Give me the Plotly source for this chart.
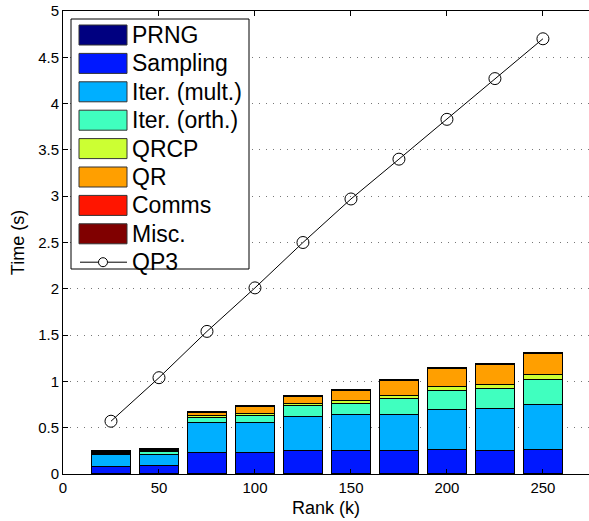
import plotly.graph_objects as go

# ---------------- data ----------------
rank = [25, 50, 75, 100, 125, 150, 175, 200, 225, 250]
series_names = ["PRNG", "Sampling", "Iter. (mult.)", "Iter. (orth.)", "QRCP", "QR", "Comms", "Misc."]
series_colors = ["#000080", "#0018FF", "#00AFFF", "#40FFBF", "#CCFF33", "#FF9F00", "#FF1500", "#800000"]

prng     = [0.002, 0.002, 0.002, 0.002, 0.002, 0.002, 0.002, 0.002, 0.002, 0.002]
sampling = [0.083, 0.085, 0.233, 0.233, 0.247, 0.247, 0.250, 0.258, 0.250, 0.265]
iter_mult = [0.122, 0.123, 0.322, 0.317, 0.368, 0.390, 0.395, 0.437, 0.452, 0.488]
iter_orth = [0.015, 0.036, 0.050, 0.085, 0.124, 0.123, 0.170, 0.210, 0.220, 0.267]
qrcp     = [0.005, 0.003, 0.020, 0.020, 0.019, 0.035, 0.035, 0.042, 0.047, 0.054]
qr       = [0.020, 0.012, 0.040, 0.070, 0.082, 0.110, 0.160, 0.193, 0.214, 0.228]
comms    = [0.002, 0.002, 0.002, 0.002, 0.002, 0.002, 0.002, 0.002, 0.002, 0.002]
misc     = [0.008, 0.014, 0.008, 0.008, 0.008, 0.008, 0.008, 0.008, 0.008, 0.008]

qp3 = [0.57, 1.04, 1.54, 2.01, 2.50, 2.97, 3.40, 3.83, 4.27, 4.70]

series_values = [prng, sampling, iter_mult, iter_orth, qrcp, qr, comms, misc]

x_ticks = [0, 50, 100, 150, 200, 250]
y_ticks = [0, 0.5, 1, 1.5, 2, 2.5, 3, 3.5, 4, 4.5, 5]
y_tick_labels = ["0", "0.5", "1", "1.5", "2", "2.5", "3", "3.5", "4", "4.5", "5"]

# ---------------- figure ----------------
W, H = 589, 521
ML, MR, MT, MB = 63, 0, 11, 47
PW, PH = W - ML - MR, H - MT - MB

FONT = "Liberation Sans, Arial, sans-serif"

fig = go.Figure()
for name, vals, col in zip(series_names, series_values, series_colors):
    fig.add_trace(go.Bar(
        x=rank, y=vals, name=name, width=20,
        marker=dict(color=col, line=dict(color="black", width=1)),
        showlegend=False,
    ))

fig.add_trace(go.Scatter(
    x=rank, y=qp3, name="QP3", mode="lines+markers",
    line=dict(color="black", width=1),
    marker=dict(symbol="circle-open", size=12, color="black", line=dict(width=1, color="black")),
    showlegend=False,
))


def px_x(px):
    return (px - ML) / PW


def px_y(py):
    return (H - MB - py) / PH


shapes = []
annotations = []

# legend box
shapes.append(dict(type="rect", xref="paper", yref="paper",
                   x0=px_x(71), x1=px_x(249), y0=px_y(269), y1=px_y(19),
                   line=dict(color="black", width=1), fillcolor="white", layer="above"))

pitch = 28.4
legend_labels = series_names + ["QP3"]
for i, lab in enumerate(legend_labels):
    cy = 35 + pitch * i
    if i < len(series_names):
        shapes.append(dict(type="rect", xref="paper", yref="paper",
                           x0=px_x(79), x1=px_x(127), y0=px_y(cy + 10), y1=px_y(cy - 10),
                           line=dict(color="#333333", width=1), fillcolor=series_colors[i],
                           layer="above"))
    else:
        shapes.append(dict(type="line", xref="paper", yref="paper",
                           x0=px_x(80), x1=px_x(127), y0=px_y(cy), y1=px_y(cy),
                           line=dict(color="black", width=1), layer="above"))
        shapes.append(dict(type="circle", xref="paper", yref="paper",
                           x0=px_x(98.5), x1=px_x(107.5), y0=px_y(cy + 4.5), y1=px_y(cy - 4.5),
                           line=dict(color="black", width=1), fillcolor="white", layer="above"))
    annotations.append(dict(xref="paper", yref="paper", x=px_x(130), y=px_y(cy),
                            text=lab, showarrow=False, xanchor="left", yanchor="middle",
                            font=dict(family=FONT, size=23, color="black")))

fig.update_layout(
    width=W, height=H,
    margin=dict(l=ML, r=MR, t=MT, b=MB, pad=0),
    barmode="stack",
    plot_bgcolor="white", paper_bgcolor="white",
    font=dict(family=FONT, size=15, color="black"),
    shapes=shapes, annotations=annotations,
    showlegend=False,
)

fig.update_xaxes(
    range=[0, 274], tickvals=x_ticks, ticktext=[str(v) for v in x_ticks],
    ticks="inside", ticklen=5, tickcolor="black", tickwidth=1,
    showline=True, linecolor="black", linewidth=1, mirror="ticks",
    showgrid=False,
    zeroline=False,
    title=dict(text="Rank (k)", font=dict(family=FONT, size=18), standoff=6),
    tickfont=dict(family=FONT, size=15),
)
fig.update_yaxes(
    range=[0, 5], tickvals=y_ticks, ticktext=y_tick_labels,
    ticks="inside", ticklen=5, tickcolor="black", tickwidth=1,
    showline=True, linecolor="black", linewidth=1, mirror=False,
    showgrid=True, gridcolor="#777777", griddash="1px,6px", gridwidth=1,
    zeroline=False,
    title=dict(text="Time (s)", font=dict(family=FONT, size=18), standoff=8),
    tickfont=dict(family=FONT, size=15),
)

fig.write_html("out.html")
